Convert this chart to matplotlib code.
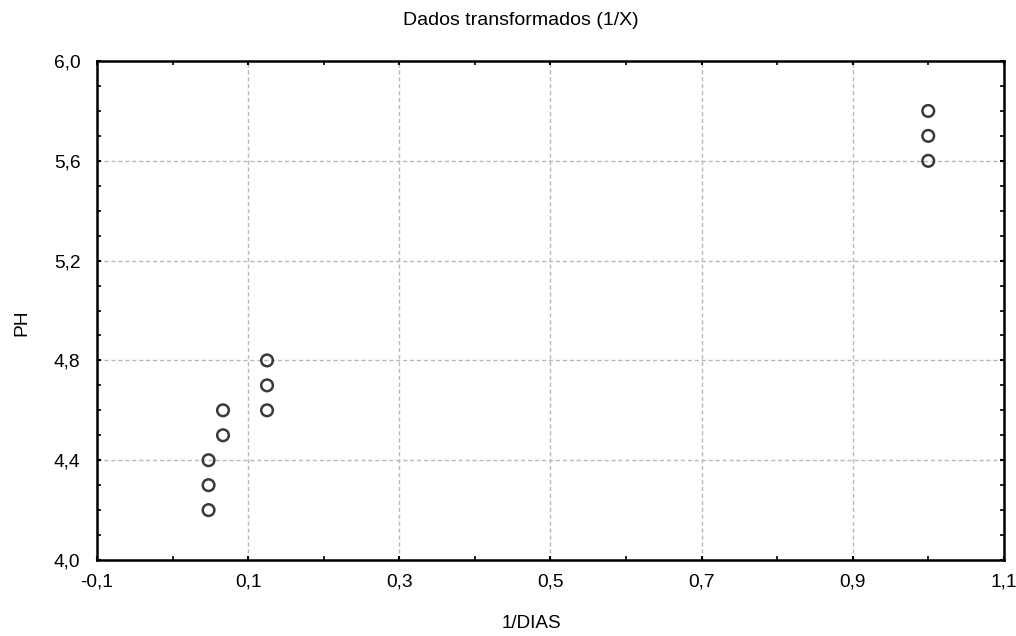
import matplotlib
matplotlib.use("Agg")
import matplotlib.pyplot as plt
from matplotlib.ticker import MultipleLocator, FuncFormatter

plt.rcParams['font.family'] = ['Liberation Sans', 'DejaVu Sans']

# 1/DIAS vs PH
inv_dias = [0.0476, 0.0476, 0.0476, 0.0667, 0.0667, 0.125, 0.125, 0.125, 1.0, 1.0, 1.0]
ph = [4.2, 4.3, 4.4, 4.5, 4.6, 4.6, 4.7, 4.8, 5.6, 5.7, 5.8]
x_ticks = [-0.1, 0.1, 0.3, 0.5, 0.7, 0.9, 1.1]
y_ticks = [4.0, 4.4, 4.8, 5.2, 5.6, 6.0]

fig = plt.figure(figsize=(10.16, 6.36), dpi=100)
ax = fig.add_axes([0.0955, 0.1195, 0.8925, 0.7845])

ax.scatter(inv_dias, ph, s=70, facecolors='none', edgecolors='#3a3a3a', linewidths=1.8, zorder=3)

ax.set_xlim(-0.1, 1.1)
ax.set_ylim(4.0, 6.0)
ax.set_xticks(x_ticks)
ax.set_yticks(y_ticks)
ax.xaxis.set_minor_locator(MultipleLocator(0.1))
ax.yaxis.set_minor_locator(MultipleLocator(0.1))

comma = FuncFormatter(lambda v, p: f"{v:.1f}".replace('.', ','))
ax.xaxis.set_major_formatter(comma)
ax.yaxis.set_major_formatter(comma)

ax.tick_params(which='both', direction='in', top=True, right=True, color='black')
ax.tick_params(which='major', length=3, width=1.5, labelsize=13.8)
ax.tick_params(axis='x', which='major', pad=10)
ax.tick_params(axis='y', which='major', pad=12)
ax.tick_params(which='minor', length=3, width=1.2)

ax.grid(True, which='major', color='#b8b8b8', linestyle=(0, (3, 2)), linewidth=1)
for s in ax.spines.values():
    s.set_linewidth(1.8)

fig.text(0.513, 0.967, "Dados transformados (1/X)", fontsize=14, ha='center', va='center')
fig.text(0.523, 0.020, "1/DIAS", fontsize=13.6, ha='center', va='center')
fig.text(0.0217, 0.492, "PH", fontsize=13.8, ha='center', va='center', rotation=90)

plt.savefig("out.png", dpi=100)
